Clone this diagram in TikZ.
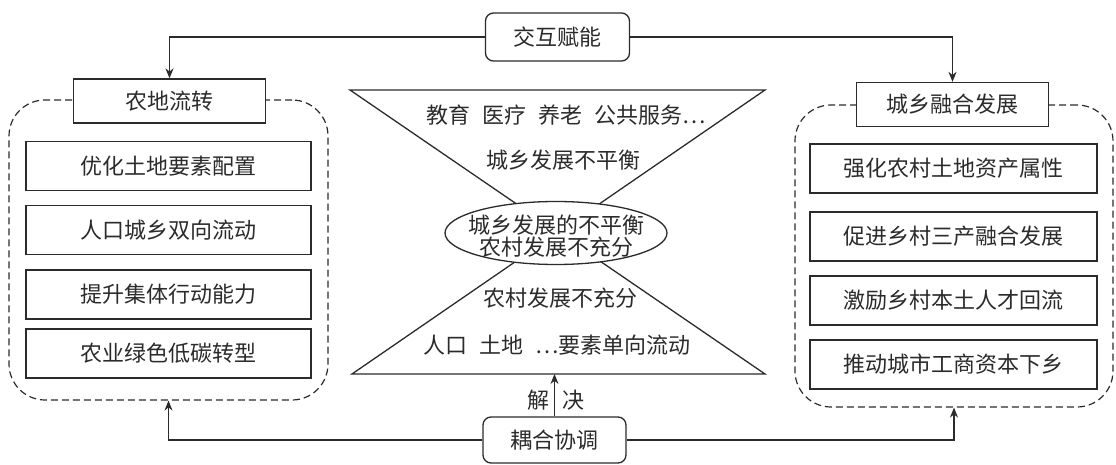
\documentclass[tikz,border=0pt]{standalone}
\usepackage{fontspec}
\usepackage{tikz}
\usetikzlibrary{arrows.meta,shapes.geometric}
\newfontfamily\cjk{Noto Sans CJK SC}
\definecolor{ink}{HTML}{2B2B2B}
\tikzset{
  plainbox/.style={draw=ink, line width=0.65pt, fill=white, align=center, inner sep=0pt,
    font=\cjk\fontsize{11}{11}\selectfont, text=ink},
  itembox/.style={plainbox, minimum width=142.5pt, minimum height=24.5pt},
  titlebox/.style={plainbox, minimum width=96pt, minimum height=22pt},
  roundbox/.style={plainbox, rounded corners=4pt, minimum width=72pt, minimum height=24pt},
  panel/.style={draw=ink, line width=0.6pt, dash pattern=on 3.5pt off 2pt, rounded corners=18pt},
  oval/.style={ellipse, draw=ink, line width=0.65pt, fill=white, inner sep=0pt},
  txt/.style={inner sep=0pt, align=center, font=\cjk\fontsize{11}{11}\selectfont, text=ink},
  arr/.style={-{Stealth[length=5pt,width=4pt]}, line width=0.65pt, draw=ink}
}

\begin{document}
\begin{tikzpicture}[x=0.5pt,y=-0.5pt]
  \useasboundingbox (0,0) rectangle (1116,465);
  \node[panel, minimum width=159.5pt, minimum height=150pt] (lpanel) at (168.5,250) {};
  \node[panel, minimum width=159pt, minimum height=151pt] (rpanel) at (954,256) {};
  \node[titlebox] (ltitle) at (169.5,101) {农地流转};
  \node[titlebox] (rtitle) at (952.5,104.5) {城乡融合发展};
  \foreach \y/\lab [count=\i] in {166/优化土地要素配置, 230/人口城乡双向流动,
      294.5/提升集体行动能力, 353.5/农业绿色低碳转型}
    \node[itembox] (l\i) at (168.5,\y) {\lab};
  \foreach \y/\lab [count=\i] in {168.5/强化农村土地资产属性, 236.5/促进乡村三产融合发展,
      300.5/激励乡村本土人才回流, 364.5/推动城市工商资本下乡}
    \node[itembox, minimum width=143.5pt] (r\i) at (953.5,\y) {\lab};

  \coordinate (tl) at (350,90);
  \coordinate (tr) at (765,90);
  \coordinate (bl) at (352,374);
  \coordinate (br) at (765,374);
  \coordinate (hb) at (554.5,374);
  \draw[draw=ink, line width=0.65pt] (tl) -- (tr) -- (bl) -- (br) -- cycle;
  \node[oval, minimum width=111pt, minimum height=31.5pt] (core) at (556,233) {};
  \node[txt] (coretext) at (556,236) {城乡发展的不平衡\\农村发展不充分};
  \node[txt] (serve) at (566,115) {教育\hspace{6pt}医疗\hspace{6pt}养老\hspace{6pt}公共服务…};
  \node[txt] (unbal) at (563,160) {城乡发展不平衡};
  \node[txt] (insuf) at (560,298) {农村发展不充分};
  \node[txt] (flow) at (557,345) {人口\hspace{6pt}土地\hspace{6pt}…要素单向流动};

  \node[roundbox] (interact) at (557.5,37) {交互赋能};
  \node[roundbox, minimum width=71.5pt, minimum height=23pt] (couple) at (554.5,440) {耦合协调};
  \node[txt] (jie) at (538,400) {解};
  \node[txt] (jue) at (573,400) {决};

  \draw[arr] (interact.west) -| (ltitle.north);
  \draw[arr] (interact.east) -| (rtitle.north);
  \draw[arr] (couple.west) -| (lpanel.south);
  \draw[arr] (couple.east) -| (rpanel.south);
  \draw[arr] (couple.north) -- (hb);
\end{tikzpicture}
\end{document}
